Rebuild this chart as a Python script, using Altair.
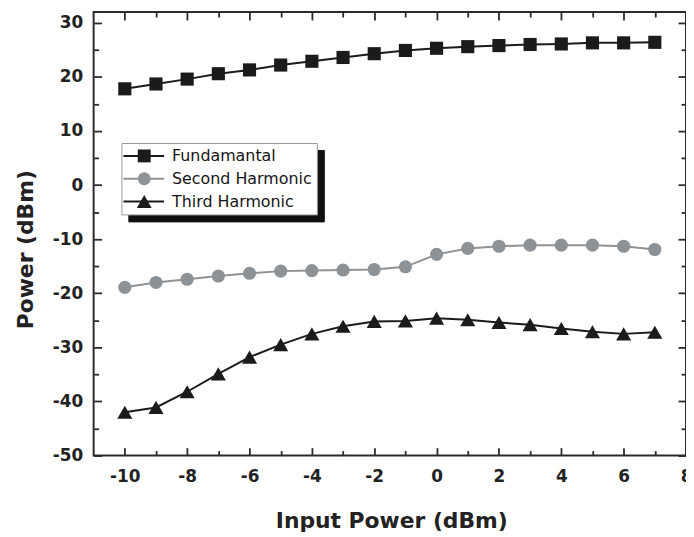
import altair as alt
import pandas as pd

# ---- data ----
input_power = [-10, -9, -8, -7, -6, -5, -4, -3, -2, -1, 0, 1, 2, 3, 4, 5, 6, 7]
fundamental = [17.8, 18.7, 19.6, 20.6, 21.3, 22.2, 22.9, 23.6, 24.3, 24.9,
               25.3, 25.6, 25.8, 26.0, 26.1, 26.3, 26.3, 26.4]
second_harmonic = [-18.9, -18.0, -17.4, -16.8, -16.3, -15.9, -15.8, -15.7, -15.6, -15.1,
                   -12.8, -11.7, -11.3, -11.1, -11.1, -11.1, -11.3, -11.9]
third_harmonic = [-42.0, -41.1, -38.2, -34.9, -31.8, -29.5, -27.5, -26.1, -25.2, -25.1,
                  -24.6, -24.9, -25.4, -25.8, -26.5, -27.1, -27.5, -27.2]
series_names = ["Fundamantal", "Second Harmonic", "Third Harmonic"]

x_major = [-10, -8, -6, -4, -2, 0, 2, 4, 6, 8]
x_minor = [-9, -7, -5, -3, -1, 1, 3, 5, 7]
y_major = [-50, -40, -30, -20, -10, 0, 10, 20, 30]
y_minor = [-45, -35, -25, -15, -5, 5, 15, 25]

rows = []
for name, vals in zip(series_names, [fundamental, second_harmonic, third_harmonic]):
    for xv, yv in zip(input_power, vals):
        rows.append({"x": xv, "value": yv, "series": name,
                     "series_p": name, "series_s": name})
df = pd.DataFrame(rows)

# ---- styles ----
BLACK = "#1b1b1b"
GRAY = "#8d9296"
AX = "#2b2b2b"
TRI = "M0,-1L1.15,1L-1.15,1Z"
LINE_SYM = "M-3.23,0L3.08,0"

xs = alt.Scale(domain=[-11, 8], nice=False, zero=False)
ys = alt.Scale(domain=[-50, 32], nice=False, zero=False)

tick_common = dict(domain=False, grid=False, tickColor=AX, tickWidth=1.8,
                   labelFlush=False, labelOverlap=False)
label_style = dict(labelFont="DejaVu Sans", labelFontWeight="bold", labelFontSize=17,
                   labelColor="#222222", labelExpr="'' + datum.value")
title_style = dict(titleFont="DejaVu Sans", titleFontWeight="bold", titleFontSize=22,
                   titleColor="#222222", titleBaseline="alphabetic", titleAlign="center")


def tick_axis(orient, values, size, labels=False, **kw):
    return alt.Axis(orient=orient, values=values, offset=-size, tickSize=size,
                    labels=labels, **tick_common, **kw)


legend_common = dict(orient="none", padding=5, rowPadding=7,
                     labelFont="DejaVu Sans", labelFontSize=16,
                     symbolSize=169, labelLimit=400)

# shadow box behind the legend (no visible content)
leg_shadow = alt.Legend(title=None, legendX=35, legendY=139, fillColor="#111111",
                        strokeColor="#111111", symbolOpacity=0, labelExpr="''",
                        symbolOffset=151, labelOffset=20, **legend_common)
# white legend box with markers and labels
leg_points = alt.Legend(title=None, legendX=28, legendY=132, fillColor="white",
                        strokeColor="#9a9a9a", symbolStrokeWidth=0,
                        symbolOffset=10, labelOffset=20,
                        labelColor="#151515", **legend_common)
# line segments through the legend markers
leg_lines = alt.Legend(title=None, legendX=28, legendY=132, symbolType=LINE_SYM,
                       symbolStrokeWidth=2, labelExpr="''",
                       symbolOffset=10, labelOffset=20, **legend_common)

base = alt.Chart(df)

shadow = base.mark_line(opacity=0).encode(
    x=alt.X("x:Q", scale=xs, axis=None),
    y=alt.Y("value:Q", scale=ys, axis=None),
    strokeDash=alt.StrokeDash("series_s:N", legend=leg_shadow),
)

points = base.mark_point(filled=True, size=175, opacity=1, strokeWidth=0).encode(
    x=alt.X("x:Q", scale=xs, axis=tick_axis(
        "bottom", x_major, 8, labels=True, labelPadding=13.5, **label_style,
        title="Input Power (dBm)", titleX=300, titleY=80, **title_style)),
    y=alt.Y("value:Q", scale=ys, axis=tick_axis(
        "left", y_major, 8, labels=True, labelPadding=11, **label_style,
        title="Power (dBm)", titleX=-70, titleY=239, titleAngle=270, **title_style)),
    fill=alt.Fill("series_p:N", scale=alt.Scale(range=[BLACK, GRAY, BLACK]),
                  legend=leg_points),
    shape=alt.Shape("series_p:N", scale=alt.Scale(range=["square", "circle", TRI]),
                    legend=leg_points),
)

lines = base.mark_line(strokeWidth=2).encode(
    x=alt.X("x:Q", scale=xs, axis=tick_axis("bottom", x_minor, 5, title=None)),
    y=alt.Y("value:Q", scale=ys, axis=tick_axis("left", y_minor, 5, title=None)),
    color=alt.Color("series:N", scale=alt.Scale(range=[BLACK, GRAY, BLACK]),
                    legend=leg_lines),
)

ticks_major = base.mark_point(opacity=0).encode(
    x=alt.X("x:Q", scale=xs, axis=tick_axis("top", x_major, 8, title=None)),
    y=alt.Y("value:Q", scale=ys, axis=tick_axis("right", y_major, 8, title=None)),
)
ticks_minor = base.mark_point(opacity=0).encode(
    x=alt.X("x:Q", scale=xs, axis=tick_axis("top", x_minor, 5, title=None)),
    y=alt.Y("value:Q", scale=ys, axis=tick_axis("right", y_minor, 5, title=None)),
)

chart = alt.layer(shadow, points, lines, ticks_major, ticks_minor).resolve_axis(
    x="independent", y="independent"
).properties(
    width=597, height=447,
    autosize=alt.AutoSizeParams(type="none"),
    padding={"left": 86.3, "top": 2, "right": 0, "bottom": 80},
    background="white",
).configure_view(stroke=AX, strokeWidth=2)

chart.save("out.html", embed_options={"renderer": "svg", "actions": False})
